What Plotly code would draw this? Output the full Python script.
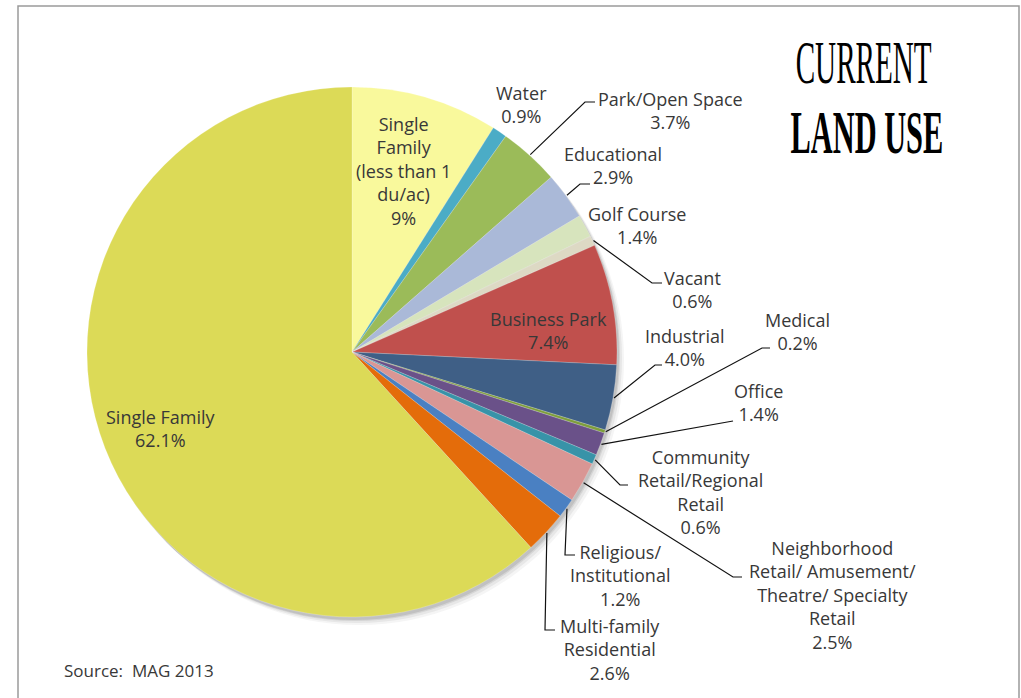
import math
import plotly.graph_objects as go

# ---- data -------------------------------------------------------------
categories = [
    "Single Family (less than 1 du/ac)", "Water", "Park/Open Space", "Educational",
    "Golf Course", "Vacant", "Business Park", "Industrial", "Medical", "Office",
    "Community Retail/Regional Retail",
    "Neighborhood Retail/ Amusement/ Theatre/ Specialty Retail",
    "Religious/ Institutional", "Multi-family Residential", "Single Family",
]
shares = [9.0, 0.9, 3.7, 2.9, 1.4, 0.6, 7.4, 4.0, 0.2, 1.4, 0.6, 2.5, 1.2, 2.6, 62.1]
share_labels = ["9%", "0.9%", "3.7%", "2.9%", "1.4%", "0.6%", "7.4%", "4.0%", "0.2%",
                "1.4%", "0.6%", "2.5%", "1.2%", "2.6%", "62.1%"]
label_lines = [
    "Single<br>Family<br>(less than 1<br>du/ac)", "Water", "Park/Open Space", "Educational",
    "Golf Course", "Vacant", "Business Park", "Industrial", "Medical", "Office",
    "Community<br>Retail/Regional<br>Retail",
    "Neighborhood<br>Retail/ Amusement/<br>Theatre/ Specialty<br>Retail",
    "Religious/<br>Institutional", "Multi-family<br>Residential", "Single Family",
]
slice_colors = [
    "#F9F99C", "#4BACC6", "#9BBB59", "#AAB9D8", "#D7E4BD", "#DDD9C4", "#C0504D",
    "#3F5F86", "#7E9E3C", "#6A5189", "#3893A8", "#D99694", "#4A80C2", "#E46C0A", "#DCDA57",
]

# ---- layout geometry (pixels) ----------------------------------------
W, H = 1021, 698
CX, CY, R = 352, 352, 265

# label block centres
label_pos = {
    0: (403, 171), 1: (521, 104), 2: (670, 110), 3: (613, 165), 4: (637, 225),
    5: (692, 289), 6: (548, 330), 7: (685, 347), 8: (797, 331), 9: (758, 402),
    10: (700, 492), 11: (832, 595), 12: (620, 575), 13: (610, 649), 14: (161, 428),
}
# leader lines: elbow point and end point
leaders = {
    2: ((585, 102), (595, 102)),
    3: ((580, 184), (590, 184)),
    5: ((652, 283), (662, 283)),
    7: ((655, 365), (662, 365)),
    8: ((762, 348), (770, 348)),
    9: ((725, 422), (733, 421)),
    10: ((620, 485), (628, 485)),
    11: ((733, 577), (742, 577)),
    12: ((565, 555), (575, 555)),
    13: ((545, 630), (555, 630)),
}

TEXT = "#383838"
FONT = "'Open Sans', Lato, sans-serif"
TITLE_FONT = "'Liberation Serif', 'DejaVu Serif', serif"

fig = go.Figure()

# pie
fig.add_trace(go.Pie(
    labels=categories, values=shares, sort=False, direction="clockwise", rotation=0,
    marker=dict(colors=slice_colors, line=dict(color="rgba(255,255,255,0.35)", width=0.6)),
    textinfo="none", hoverinfo="skip", showlegend=False,
    domain=dict(x=[(CX - R) / W, (CX + R) / W], y=[1 - (CY + R) / H, 1 - (CY - R) / H]),
))

# leader lines, starting at each slice's mid angle on the rim
total = sum(shares)
cum = 0.0
mids = []
for v in shares:
    mids.append((cum + v / 2) / total * 2 * math.pi)
    cum += v
for i, (elbow, end) in leaders.items():
    a = mids[i]
    sx = CX + (R + 1) * math.sin(a)
    sy = CY - (R + 1) * math.cos(a)
    fig.add_trace(go.Scatter(
        x=[sx, elbow[0], end[0]], y=[sy, elbow[1], end[1]], mode="lines",
        line=dict(color="#111111", width=1.2), hoverinfo="skip", showlegend=False,
    ))

# labels
for i, (x, y) in label_pos.items():
    fig.add_annotation(
        x=x, y=y, xref="x", yref="y", showarrow=False, xanchor="center", yanchor="middle",
        text=f"{label_lines[i]}<br>{share_labels[i]}", align="center",
        font=dict(family=FONT, size=18, color=TEXT),
    )

# title and source
fig.add_annotation(x=863, y=62, xref="x", yref="y", showarrow=False, text="CURRENT",
                   font=dict(family=TITLE_FONT, size=62, color="#000000"))
fig.add_annotation(x=867, y=132, xref="x", yref="y", showarrow=False, text="<b>LAND USE</b>",
                   font=dict(family=TITLE_FONT, size=62, color="#000000"))
fig.add_annotation(x=62, y=670, xref="x", yref="y", showarrow=False, xanchor="left",
                   yanchor="middle", text="Source:  MAG 2013",
                   font=dict(family=FONT, size=17, color=TEXT))

# soft drop shadow under the pie
shapes = []
for k, op in [(7, 0.06), (5, 0.08), (3, 0.12), (2, 0.15)]:
    shapes.append(dict(type="circle", xref="x", yref="y", layer="below",
                       x0=CX - R + k, x1=CX + R + k, y0=CY - R + k + 1, y1=CY + R + k + 1,
                       fillcolor=f"rgba(80,80,80,{op})", line=dict(width=0)))
# frame
shapes.append(dict(type="rect", xref="x", yref="y", x0=18, x1=1019, y0=6, y1=720,
                   line=dict(color="#9A9A9A", width=1.5), fillcolor="rgba(0,0,0,0)", layer="below"))

fig.update_layout(
    width=W, height=H, margin=dict(l=0, r=0, t=0, b=0),
    paper_bgcolor="white", plot_bgcolor="white", shapes=shapes,
    xaxis=dict(range=[0, W], visible=False, fixedrange=True, domain=[0, 1]),
    yaxis=dict(range=[H, 0], visible=False, fixedrange=True, domain=[0, 1]),
)

# narrow the display lettering of the heading horizontally
condense_title = """
var squeeze = {'CURRENT': 0.47, 'LAND USE': 0.49};
document.querySelectorAll('text.annotation-text').forEach(function (t) {
  var s = squeeze[t.textContent];
  if (s) {
    t.style.transformBox = 'fill-box';
    t.style.transformOrigin = 'center';
    t.style.transform = 'scaleX(' + s + ')';
  }
});
"""

fig.write_html("out.html", post_script=condense_title)
